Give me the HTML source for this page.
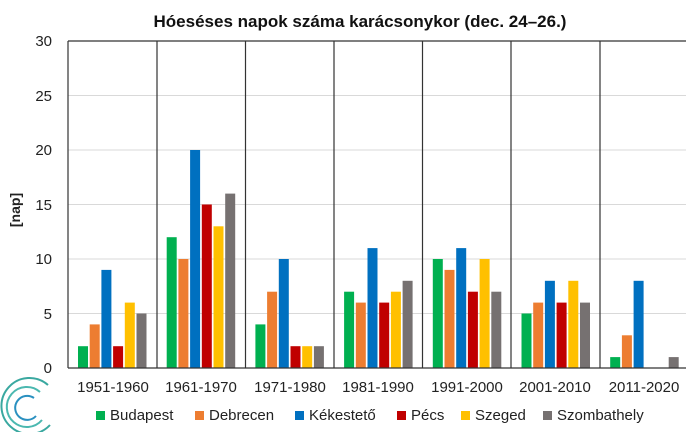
<!DOCTYPE html>
<html><head><meta charset="utf-8"><style>
body{margin:0;background:#fff;}
svg{display:block;font-family:"Liberation Sans",sans-serif;}
</style></head><body>
<svg width="686" height="432" viewBox="0 0 686 432" xmlns="http://www.w3.org/2000/svg">
<rect width="686" height="432" fill="#fff"/>
<text x="360" y="27" text-anchor="middle" font-size="17" font-weight="bold" fill="#111">Hóeséses napok száma karácsonykor (dec. 24–26.)</text>
<g stroke="#d9d9d9" stroke-width="1">
<line x1="68" x2="686" y1="95.5" y2="95.5"/><line x1="68" x2="686" y1="150" y2="150"/>
<line x1="68" x2="686" y1="204.5" y2="204.5"/><line x1="68" x2="686" y1="259" y2="259"/>
<line x1="68" x2="686" y1="313.5" y2="313.5"/>
</g>
<g font-size="15" fill="#222" text-anchor="end">
<text x="52" y="46">30</text><text x="52" y="101">25</text><text x="52" y="155">20</text>
<text x="52" y="210">15</text><text x="52" y="264">10</text><text x="52" y="319">5</text><text x="52" y="373">0</text>
</g>
<text transform="translate(20,210) rotate(-90)" text-anchor="middle" font-size="14" font-weight="bold" fill="#222">[nap]</text>
<g transform="translate(0,368) scale(1,-10.9)">
<g fill="#00b050">
<rect x="78" y="0" width="10" height="2"/><rect x="166.7" y="0" width="10" height="12"/><rect x="255.4" y="0" width="10" height="4"/>
<rect x="344.1" y="0" width="10" height="7"/><rect x="432.8" y="0" width="10" height="10"/><rect x="521.5" y="0" width="10" height="5"/>
<rect x="610.2" y="0" width="10" height="1"/>
</g>
<g fill="#ed7d31">
<rect x="89.7" y="0" width="10" height="4"/><rect x="178.4" y="0" width="10" height="10"/><rect x="267.1" y="0" width="10" height="7"/>
<rect x="355.8" y="0" width="10" height="6"/><rect x="444.5" y="0" width="10" height="9"/><rect x="533.2" y="0" width="10" height="6"/>
<rect x="621.9" y="0" width="10" height="3"/>
</g>
<g fill="#0070c0">
<rect x="101.4" y="0" width="10" height="9"/><rect x="190.1" y="0" width="10" height="20"/><rect x="278.8" y="0" width="10" height="10"/>
<rect x="367.5" y="0" width="10" height="11"/><rect x="456.2" y="0" width="10" height="11"/><rect x="544.9" y="0" width="10" height="8"/>
<rect x="633.6" y="0" width="10" height="8"/>
</g>
<g fill="#c00000">
<rect x="113.1" y="0" width="10" height="2"/><rect x="201.8" y="0" width="10" height="15"/><rect x="290.5" y="0" width="10" height="2"/>
<rect x="379.2" y="0" width="10" height="6"/><rect x="467.9" y="0" width="10" height="7"/><rect x="556.6" y="0" width="10" height="6"/>
</g>
<g fill="#ffc000">
<rect x="124.8" y="0" width="10" height="6"/><rect x="213.5" y="0" width="10" height="13"/><rect x="302.2" y="0" width="10" height="2"/>
<rect x="390.9" y="0" width="10" height="7"/><rect x="479.6" y="0" width="10" height="10"/><rect x="568.3" y="0" width="10" height="8"/>
</g>
<g fill="#767171">
<rect x="136.5" y="0" width="10" height="5"/><rect x="225.2" y="0" width="10" height="16"/><rect x="313.9" y="0" width="10" height="2"/>
<rect x="402.6" y="0" width="10" height="8"/><rect x="491.3" y="0" width="10" height="7"/><rect x="580" y="0" width="10" height="6"/>
<rect x="668.7" y="0" width="10" height="1"/>
</g>
</g>
<g stroke="#333" stroke-width="1.2">
<line x1="68" x2="686" y1="41" y2="41"/>
<line x1="68" x2="686" y1="368" y2="368"/>
<line x1="68" x2="68" y1="41" y2="368"/><line x1="157" x2="157" y1="41" y2="368"/>
<line x1="245.5" x2="245.5" y1="41" y2="368"/><line x1="334" x2="334" y1="41" y2="368"/>
<line x1="422.5" x2="422.5" y1="41" y2="368"/><line x1="511" x2="511" y1="41" y2="368"/>
<line x1="600" x2="600" y1="41" y2="368"/>
</g>
<g font-size="15" fill="#222" text-anchor="middle">
<text x="113" y="392">1951-1960</text><text x="201" y="392">1961-1970</text><text x="290" y="392">1971-1980</text>
<text x="378" y="392">1981-1990</text><text x="467" y="392">1991-2000</text><text x="555" y="392">2001-2010</text>
<text x="644" y="392">2011-2020</text>
</g>
<g font-size="15" fill="#222">
<rect x="96" y="411" width="9" height="9" fill="#00b050"/><text x="110" y="420">Budapest</text>
<rect x="195" y="411" width="9" height="9" fill="#ed7d31"/><text x="209" y="420">Debrecen</text>
<rect x="295" y="411" width="9" height="9" fill="#0070c0"/><text x="309" y="420">Kékestető</text>
<rect x="397" y="411" width="9" height="9" fill="#c00000"/><text x="411" y="420">Pécs</text>
<rect x="461" y="411" width="9" height="9" fill="#ffc000"/><text x="475" y="420">Szeged</text>
<rect x="543" y="411" width="9" height="9" fill="#767171"/><text x="557" y="420">Szombathely</text>
</g>
<g fill="none" stroke="#3aa8a0" stroke-width="2">
<path d="M48 385 A28 28 0 1 0 50 425"/>
<path d="M40 392 A20 20 0 1 0 42 420" stroke="#4bb8b0"/>
<path d="M34 398 A12 12 0 1 0 36 416" stroke="#2a90c0"/>
</g>
</svg>
</body></html>
